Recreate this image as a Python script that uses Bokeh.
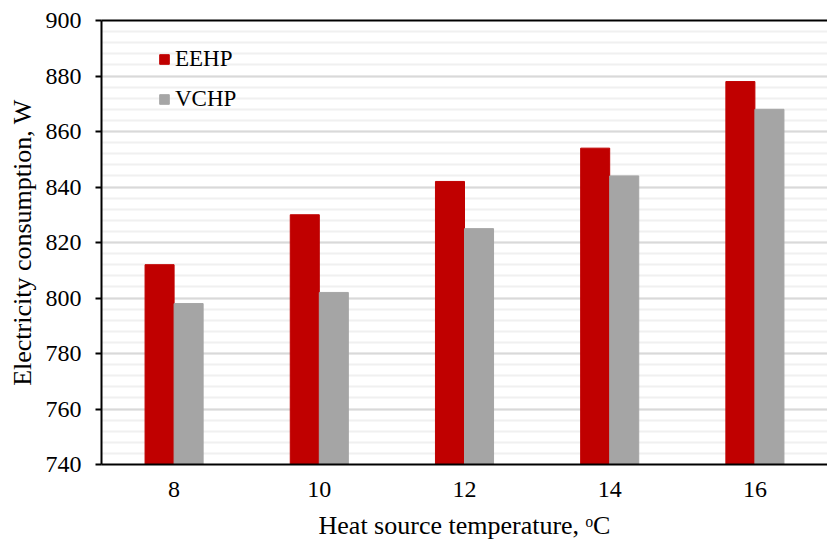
from bokeh.plotting import figure
from bokeh.models import Range1d, FactorRange, FixedTicker, LinearAxis, ColumnDataSource
from bokeh.transform import dodge
from bokeh.embed import file_html
from bokeh.resources import INLINE

# Heat source temperature (°C) categories and electricity consumption (W)
temperatures = ["8", "10", "12", "14", "16"]
eehp = [812, 830, 842, 854, 878]
vchp = [798, 802, 825, 844, 868]

y_ticks = [740, 760, 780, 800, 820, 840, 860, 880, 900]
y_minor = list(range(740, 901, 4))

FONT = "Liberation Serif"

source = ColumnDataSource(data=dict(t=temperatures, eehp=eehp, vchp=vchp))

p = figure(
    width=827, height=547,
    x_range=FactorRange(*temperatures, range_padding=0),
    y_range=Range1d(740, 900),
    output_backend="svg", toolbar_location=None,
    min_border_left=101, min_border_right=0, min_border_top=20, min_border_bottom=83,
)
p.outline_line_color = None
p.background_fill_color = "white"
p.border_fill_color = "white"

p.vbar(x=dodge("t", -0.1, range=p.x_range), top="eehp", bottom=740, width=0.2,
       source=source, fill_color="#C00000", line_color="#C00000",
       legend_label="EEHP")
p.vbar(x=dodge("t", 0.1, range=p.x_range), top="vchp", bottom=740, width=0.2,
       source=source, fill_color="#A5A5A5", line_color="#A5A5A5",
       legend_label="VCHP")

# Grid: major every 20 W, minor every 4 W
p.xgrid.grid_line_color = None
p.ygrid.ticker = FixedTicker(ticks=y_ticks, minor_ticks=y_minor)
p.ygrid.grid_line_color = "#d9d9d9"
p.ygrid.grid_line_width = 2
p.ygrid.minor_grid_line_color = "#f0f0f0"
p.ygrid.minor_grid_line_width = 2

# Y axis
ya = p.yaxis[0]
ya.ticker = FixedTicker(ticks=y_ticks)
ya.axis_label = "Electricity consumption, W"
ya.axis_line_color = "black"
ya.axis_line_width = 2
ya.major_tick_out = 6
ya.major_tick_in = 0
ya.major_tick_line_color = "black"
ya.major_tick_line_width = 2
ya.minor_tick_line_color = None
ya.major_label_standoff = 14
ya.axis_label_standoff = 6

# X axis
xa = p.xaxis[0]
xa.axis_label = "Heat source temperature, ᵒC"
xa.axis_line_color = "black"
xa.axis_line_width = 2
xa.major_tick_line_color = None
xa.major_tick_out = 0
xa.major_tick_in = 0
xa.major_label_standoff = 17
xa.axis_label_standoff = 11

for ax in (xa, ya):
    ax.major_label_text_font = FONT
    ax.major_label_text_font_size = "24px"
    ax.major_label_text_color = "black"
    ax.axis_label_text_font = FONT
    ax.axis_label_text_font_size = "26px"
    ax.axis_label_text_font_style = "normal"
    ax.axis_label_text_color = "black"

# Top frame line
top = LinearAxis(ticker=FixedTicker(ticks=[]), axis_line_color="black",
                 axis_line_width=2, major_label_text_font_size="0px",
                 major_tick_line_color=None, minor_tick_line_color=None)
p.add_layout(top, "above")

# Legend
lg = p.legend[0]
lg.location = (57, 352)
lg.background_fill_alpha = 0
lg.border_line_color = None
lg.padding = 0
lg.margin = 0
lg.spacing = 14
lg.glyph_width = 12
lg.glyph_height = 12
lg.label_height = 25
lg.label_standoff = 5
lg.label_text_font = FONT
lg.label_text_font_size = "23px"
lg.label_text_color = "black"

open("out.html", "w").write(file_html(p, INLINE))
